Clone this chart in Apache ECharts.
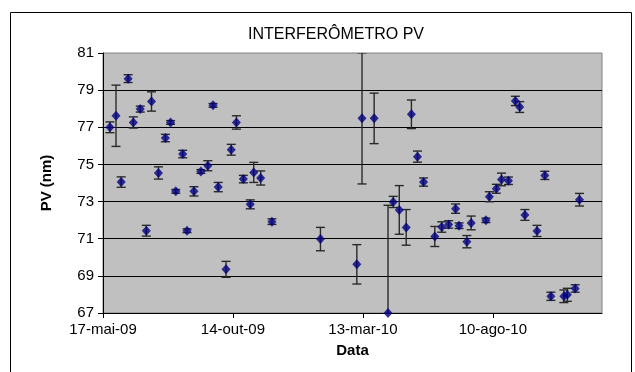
<!DOCTYPE html>
<html>
<head>
<meta charset="utf-8">
<script src="https://cdn.jsdelivr.net/npm/echarts@6/dist/echarts.min.js"></script>
<style>
  html, body { margin: 0; padding: 0; background: #fff; }
  #container { width: 635px; height: 372px; }
</style>
</head>
<body>
<div id="container"></div>
<script>
const dates = [
  '2009-05-25', '2009-06-01', '2009-06-07', '2009-06-15', '2009-06-21', '2009-06-29',
  '2009-07-06', '2009-07-12', '2009-07-20', '2009-07-28', '2009-08-03', '2009-08-09',
  '2009-08-17', '2009-08-22', '2009-08-30', '2009-09-07', '2009-09-15', '2009-09-21',
  '2009-09-27', '2009-10-06', '2009-10-12', '2009-10-18', '2009-10-26', '2009-11-03',
  '2009-11-07', '2009-11-15', '2009-11-28', '2010-01-23', '2010-03-06', '2010-03-12',
  '2010-03-26', '2010-04-11', '2010-04-17', '2010-04-24', '2010-05-02', '2010-05-08',
  '2010-05-15', '2010-05-22', '2010-06-04', '2010-06-12', '2010-06-20', '2010-06-28',
  '2010-07-02', '2010-07-11', '2010-07-16', '2010-08-02', '2010-08-06', '2010-08-14',
  '2010-08-20', '2010-08-28', '2010-09-05', '2010-09-10', '2010-09-16', '2010-09-30',
  '2010-10-09', '2010-10-16', '2010-10-31', '2010-11-04', '2010-11-13', '2010-11-18'
]
const pv = [
  77.0, 77.62, 74.05, 79.62, 77.26, 77.98,
  71.43, 78.39, 74.54, 76.42, 77.26, 73.55,
  75.56, 71.43, 73.55, 74.62, 74.93, 78.18,
  73.78, 69.35, 75.79, 77.26, 74.21, 72.85,
  74.57, 74.27, 71.92, 70.98, 69.62, 77.48,
  77.48, 67.0, 72.98, 72.55, 71.61, 77.7,
  75.42, 74.05, 71.12, 71.63, 71.77, 72.62,
  71.7, 70.84, 71.85, 71.99, 73.26, 73.69,
  74.19, 74.12, 78.42, 78.09, 72.28, 71.42,
  74.41, 67.9, 67.9, 67.98, 68.32, 73.1
]
const err = [
  0.29, 1.65, 0.28, 0.21, 0.3, 0.16,
  0.29, 0.52, 0.33, 0.2, 0.1, 0.1,
  0.2, 0.1, 0.25, 0.1, 0.27, 0.1,
  0.25, 0.43, 0.29, 0.36, 0.2, 0.24,
  0.54, 0.38, 0.15, 0.63, 1.06, 3.53,
  1.36, 5.8, 0.3, 1.31, 0.96, 0.77,
  0.3, 0.22, 0.54, 0.28, 0.2, 0.25,
  0.15, 0.33, 0.37, 0.12, 0.27, 0.24,
  0.34, 0.2, 0.25, 0.29, 0.29, 0.3,
  0.22, 0.22, 0.34, 0.35, 0.2, 0.34
]
const startDate = '2009-05-17'
const endDate = '2010-12-14'
const xTickLabels = ['17-mai-09', '14-out-09', '13-mar-10', '10-ago-10']
const yTicks = [67, 69, 71, 73, 75, 77, 79, 81]
const gridLines = [69, 71, 73, 75, 77, 79]

const DAY = 86400000
const toDay = (s) => (Date.parse(s + 'T00:00:00Z') - Date.parse(startDate + 'T00:00:00Z')) / DAY
const xStep = 150
const xTicks = xTickLabels.map((_, i) => i * xStep)

const points = dates.map((d, i) => [toDay(d), pv[i]])
const bars = dates.map((d, i) => [toDay(d), pv[i] - err[i], pv[i] + err[i]])

const font = 'Liberation Sans, Arial, sans-serif'

const myChart = echarts.init(document.getElementById('container'))

const option = {
  backgroundColor: '#fff',
  animation: false,
  graphic: [{
    type: 'rect',
    shape: { x: 10.5, y: 12.5, width: 621, height: 400 },
    style: { fill: 'none', stroke: '#000', lineWidth: 1 },
    silent: true
  }],
  title: {
    text: 'INTERFERÔMETRO PV',
    left: 331,
    top: 22,
    textAlign: 'center',
    textStyle: { fontFamily: font, fontSize: 16, fontWeight: 'normal', color: '#000' }
  },
  grid: {
    left: 103,
    right: 33,
    top: 53,
    bottom: 59,
    show: true,
    backgroundColor: '#c0c0c0',
    borderColor: '#808080',
    borderWidth: 1
  },
  xAxis: {
    type: 'value',
    min: 0,
    max: toDay(endDate),
    interval: xStep,
    name: 'Data',
    nameLocation: 'middle',
    nameGap: 30,
    nameTextStyle: { fontFamily: font, fontSize: 15, fontWeight: 'bold', color: '#000' },
    axisLine: { show: true, onZero: false, lineStyle: { color: '#000', width: 1 } },
    axisTick: { show: true, inside: false, length: 5, customValues: xTicks, lineStyle: { color: '#000' } },
    axisLabel: {
      customValues: xTicks,
      fontFamily: font, fontSize: 15, color: '#000', margin: 9,
      formatter: (v) => xTickLabels[Math.round(v / xStep)] || ''
    },
    splitLine: { show: false }
  },
  yAxis: {
    type: 'value',
    min: yTicks[0],
    max: yTicks[yTicks.length - 1],
    name: 'PV (nm)',
    nameLocation: 'middle',
    nameRotate: 90,
    nameGap: 49,
    nameTextStyle: { fontFamily: font, fontSize: 15, fontWeight: 'bold', color: '#000' },
    axisLine: { show: true, onZero: false, lineStyle: { color: '#000', width: 1 } },
    axisTick: { show: true, inside: false, length: 5, customValues: yTicks, lineStyle: { color: '#000' } },
    axisLabel: { customValues: yTicks, fontFamily: font, fontSize: 15, color: '#000', margin: 9 },
    splitLine: { show: false }
  },
  series: [
    {
      type: 'custom',
      name: 'erro',
      data: bars,
      z: 2,
      clip: true,
      renderItem: (params, api) => {
        const x = api.coord([api.value(0), api.value(1)])[0]
        const cs = params.coordSys
        const lo = api.coord([api.value(0), api.value(1)])[1]
        const hi = api.coord([api.value(0), api.value(2)])[1]
        const bottom = cs.y + cs.height
        const top = cs.y
        const cap = 4.5
        const stroke = { stroke: '#2a2a2a', lineWidth: 1.4 }
        const children = [
          { type: 'line', shape: { x1: x, y1: Math.min(lo, bottom), x2: x, y2: Math.max(hi, top) }, style: stroke }
        ]
        if (hi >= top - 1) children.push({ type: 'line', shape: { x1: x - cap, y1: hi, x2: x + cap, y2: hi }, style: stroke })
        if (lo <= bottom + 1) children.push({ type: 'line', shape: { x1: x - cap, y1: lo, x2: x + cap, y2: lo }, style: stroke })
        return { type: 'group', children }
      }
    },
    {
      type: 'scatter',
      name: 'PV',
      data: points,
      z: 3,
      clip: false,
      symbol: 'diamond',
      symbolSize: [9, 10],
      itemStyle: { color: '#000080' },
      markLine: {
        silent: true,
        symbol: ['none', 'none'],
        label: { show: false },
        lineStyle: { color: '#000', width: 1, type: 'solid' },
        z: 1,
        data: gridLines.map((v) => ({ yAxis: v }))
      }
    }
  ]
}

myChart.setOption(option)
</script>
</body>
</html>
